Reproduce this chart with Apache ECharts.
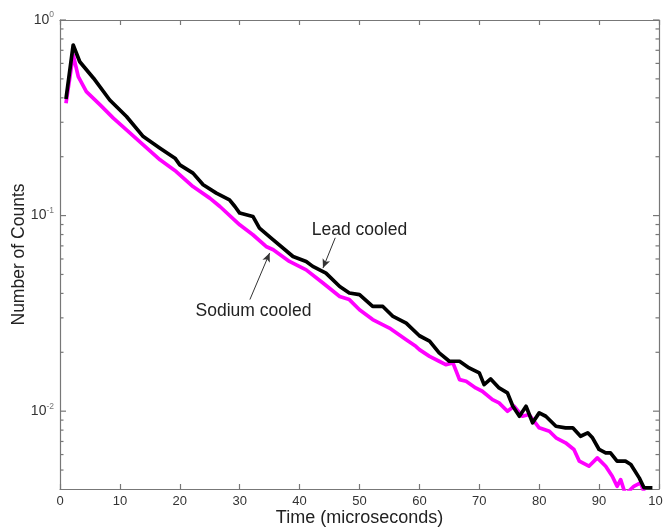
<!DOCTYPE html>
<html>
<head>
<meta charset="utf-8">
<script src="https://cdn.jsdelivr.net/npm/echarts@6/dist/echarts.min.js"></script>
<style>html,body{margin:0;padding:0;background:#fff}#c{width:663px;height:530px}</style>
</head>
<body>
<div id="c"></div>
<script>
// ---- data (time in microseconds, counts) ----
const leadT = [1.0, 2.2, 3.3, 5.6, 8.3, 11.1, 13.9, 16.7, 19.2, 20, 22.2, 23.9, 26.1, 28.3, 29.2, 30, 32.2, 33.3, 35.6, 38.9, 41.1, 42.2, 44.4, 46.7, 48.3, 50, 52.2, 53.9, 55.6, 57.8, 60, 61.7, 63.3, 65, 66.7, 68.3, 70, 70.8, 71.9, 73.3, 74.7, 75.6, 76.7, 77.8, 78.9, 80, 81.1, 82.8, 84.4, 85.6, 86.9, 88.1, 88.9, 90, 91.1, 91.9, 93, 94.4, 95.3, 96.7, 97.5, 98.9];
const leadN = [0.395, 0.745, 0.612, 0.504, 0.390, 0.321, 0.2535, 0.2212, 0.1966, 0.1817, 0.1649, 0.1437, 0.1302, 0.1204, 0.1113, 0.1030, 0.0990, 0.0863, 0.0752, 0.0618, 0.0583, 0.0550, 0.0508, 0.0434, 0.0402, 0.0394, 0.0343, 0.0343, 0.0305, 0.0282, 0.0243, 0.0228, 0.01985, 0.0180, 0.0180, 0.01664, 0.01569, 0.01367, 0.01462, 0.01315, 0.01240, 0.01059, 0.00942, 0.01059, 0.00872, 0.00980, 0.00942, 0.00837, 0.00822, 0.00822, 0.00744, 0.00775, 0.00731, 0.00637, 0.00612, 0.00612, 0.00555, 0.00555, 0.00534, 0.00456, 0.00406, 0.00406];
const sodiumT = [1.0, 2.2, 3.05, 4.4, 6.7, 8.9, 11.1, 13.9, 16.7, 19.4, 22.2, 25, 26.7, 30, 32.2, 34.4, 35.6, 38.3, 41.1, 43.9, 46.7, 48.3, 50, 52.2, 55, 57.8, 59.4, 60, 61.7, 63.3, 64.4, 65.6, 66.7, 67.8, 69.4, 70.5, 72.2, 73.3, 74.7, 75.8, 77.2, 78.3, 80, 81.7, 82.8, 84.4, 85.8, 86.7, 88.3, 89.7, 91.1, 92.2, 93, 93.6, 94.4, 95.8, 96.9, 97.8];
const sodiumN = [0.3755, 0.663, 0.513, 0.4304, 0.368, 0.3148, 0.2743, 0.2299, 0.1928, 0.1680, 0.1408, 0.1228, 0.1113, 0.0897, 0.0798, 0.0695, 0.0669, 0.0583, 0.0528, 0.0452, 0.0386, 0.0372, 0.0330, 0.0294, 0.0266, 0.0232, 0.02146, 0.02064, 0.01907, 0.0180, 0.01730, 0.01765, 0.01450, 0.01421, 0.01315, 0.01264, 0.01146, 0.01103, 0.00999, 0.01059, 0.00942, 0.00961, 0.00822, 0.00789, 0.00731, 0.00689, 0.00637, 0.00555, 0.00523, 0.00577, 0.00523, 0.00465, 0.00413, 0.00447, 0.00375, 0.00413, 0.00430, 0.00367];
const xTicks = [0, 10, 20, 30, 40, 50, 60, 70, 80, 90, 100];
const yMajorExp = [-2, -1, 0];          // y tick labels: 10^-2, 10^-1, 10^0
const yMin = 0.004, yMax = 1;
const seriesNames = ['Lead cooled', 'Sodium cooled'];
// annotation anchors [x, y] in data units
const leadLabelAt = [50, 0.0846];
const leadArrow = [[45.95, 0.077], [43.9, 0.0539]];
const sodiumLabelAt = [32.3, 0.0324];
const sodiumArrow = [[31.7, 0.0372], [35.0, 0.0644]];

// y tick list: majors (10^k) and minors (m x 10^k) within axis range
const yTickList = [];
yMajorExp.forEach(e => yTickList.push([Math.pow(10, e), 1, e]));
for (let k = -3; k <= -1; k++) for (let m = 2; m <= 9; m++) {
  const v = m * Math.pow(10, k);
  if (v > yMin * 1.01 && v < yMax) yTickList.push([v, 0, 0]);
}

const FONT = '"Liberation Sans", Arial, Helvetica, sans-serif';
const AX = '#777';

const chart = echarts.init(document.getElementById('c'), null, {renderer: 'canvas'});

const xBase = {
  type: 'value', min: 0, max: 100, interval: 10,
  axisLine: {show: true, onZero: false, lineStyle: {color: AX, width: 1.2}},
  axisTick: {show: true, inside: true, length: 5, lineStyle: {color: AX, width: 1.2}},
  splitLine: {show: false}
};
const yBase = {
  type: 'log', logBase: 10, min: yMin, max: yMax,
  axisLine: {show: true, onZero: false, lineStyle: {color: AX, width: 1.2}},
  axisTick: {show: false}, axisLabel: {show: false},
  splitLine: {show: false}, minorTick: {show: false}
};

chart.setOption({
  animation: false,
  backgroundColor: '#fff',
  textStyle: {fontFamily: FONT},
  grid: {left: 60, right: 4, top: 20, bottom: 41, containLabel: false, outerBoundsMode: 'none'},
  xAxis: [
    Object.assign({}, xBase, {
      position: 'bottom',
      axisLabel: {show: true, margin: 6, fontSize: 13, color: '#333', fontFamily: FONT},
      name: 'Time (microseconds)', nameLocation: 'middle', nameGap: 20, nameMoveOverlap: false,
      nameTextStyle: {fontSize: 18, color: '#222', fontFamily: FONT}
    }),
    Object.assign({}, xBase, {position: 'top', axisLabel: {show: false}})
  ],
  yAxis: [
    Object.assign({}, yBase, {
      position: 'left',
      name: 'Number of Counts', nameLocation: 'middle', nameGap: 32, nameRotate: 90, nameMoveOverlap: false,
      nameTextStyle: {fontSize: 17.5, color: '#222', fontFamily: FONT}
    }),
    Object.assign({}, yBase, {position: 'right'})
  ],
  series: [
    {
      name: seriesNames[1], type: 'line', xAxisIndex: 0, yAxisIndex: 0,
      data: sodiumT.map((t, i) => [t, sodiumN[i]]),
      showSymbol: false, symbol: 'none', clip: true, z: 3,
      lineStyle: {color: '#ff00ff', width: 3.7, join: 'round'},
      markLine: {
        silent: true, symbol: ['none', 'arrow'], symbolSize: [6, 9],
        label: {show: false},
        lineStyle: {color: '#333', width: 1, type: 'solid'},
        data: [[{coord: sodiumArrow[0]}, {coord: sodiumArrow[1]}]]
      }
    },
    {
      name: seriesNames[0], type: 'line', xAxisIndex: 0, yAxisIndex: 0,
      data: leadT.map((t, i) => [t, leadN[i]]),
      showSymbol: false, symbol: 'none', clip: true, z: 4,
      lineStyle: {color: '#000', width: 3.7, join: 'round'},
      markLine: {
        silent: true, symbol: ['none', 'arrow'], symbolSize: [6, 9],
        label: {show: false},
        lineStyle: {color: '#333', width: 1, type: 'solid'},
        data: [[{coord: leadArrow[0]}, {coord: leadArrow[1]}]]
      }
    },
    {
      // log-axis ticks (left & right) and 10^k labels, placed through the axis scale
      type: 'custom', xAxisIndex: 0, yAxisIndex: 0, silent: true, clip: false, z: 5,
      data: yTickList,
      encode: {y: 0},
      renderItem: function (params, api) {
        const v = api.value(0);
        const major = api.value(1) === 1;
        const e = api.value(2);
        const pL = api.coord([0, v]);
        const pR = api.coord([100, v]);
        const len = major ? 6 : 3.5;
        const children = [
          {type: 'line', shape: {x1: pL[0], y1: pL[1], x2: pL[0] + len, y2: pL[1]}, style: {stroke: AX, lineWidth: 1.2}},
          {type: 'line', shape: {x1: pR[0], y1: pR[1], x2: pR[0] - len, y2: pR[1]}, style: {stroke: AX, lineWidth: 1.2}}
        ];
        if (major) {
          children.push({
            type: 'text', x: pL[0] - 6, y: pL[1],
            style: {
              text: '{b|10}{s|' + e + '}', align: 'right', verticalAlign: 'middle',
              rich: {
                b: {fontSize: 14, fill: '#333', fontFamily: FONT},
                s: {fontSize: 8.5, fill: '#777', fontFamily: FONT, padding: [0, 0, 10, 0]}
              }
            }
          });
        }
        return {type: 'group', children: children};
      }
    }
  ]
});

function placeLabels() {
  const a = chart.convertToPixel({xAxisIndex: 0, yAxisIndex: 0}, leadLabelAt);
  const b = chart.convertToPixel({xAxisIndex: 0, yAxisIndex: 0}, sodiumLabelAt);
  chart.setOption({
    graphic: [
      {type: 'text', x: a[0], y: a[1], silent: true,
       style: {text: seriesNames[0], font: '17.5px ' + FONT, fill: '#222', textAlign: 'center', textVerticalAlign: 'middle'}},
      {type: 'text', x: b[0], y: b[1], silent: true,
       style: {text: seriesNames[1], font: '17.5px ' + FONT, fill: '#222', textAlign: 'center', textVerticalAlign: 'middle'}}
    ]
  });
}
placeLabels();
</script>
</body>
</html>
